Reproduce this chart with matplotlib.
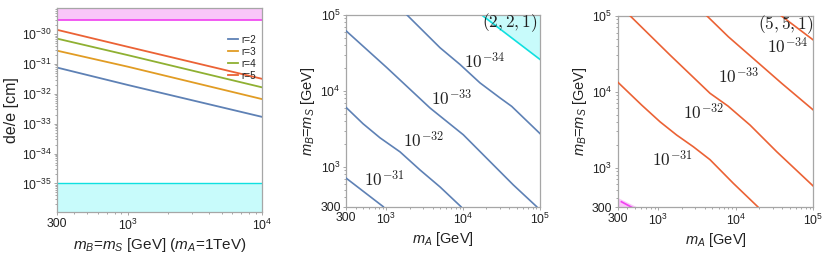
import numpy as np
import matplotlib
matplotlib.use("Agg")
import matplotlib.pyplot as plt
from matplotlib.ticker import FixedLocator, NullFormatter, LogLocator

plt.rcParams['font.family'] = ['Liberation Sans', 'DejaVu Sans']
plt.rcParams['mathtext.fontset'] = 'custom'
plt.rcParams['mathtext.rm'] = 'Liberation Sans'
plt.rcParams['mathtext.it'] = 'Liberation Sans:italic'
plt.rcParams['mathtext.sf'] = 'Liberation Sans'

# ---------------- data ----------------
# Panel 1: de/e vs mB=mS (mA = 1 TeV)
p1_mass = [300, 1000, 10000]
p1_r2 = [7.6e-32, 2.0e-32, 1.7e-33]
p1_r3 = [2.8e-31, 8.2e-32, 6.7e-33]
p1_r4 = [7.1e-31, 2.0e-31, 1.66e-32]
p1_r5 = [1.4e-30, 3.8e-31, 3.2e-32]
p1_labels = ['r=2', 'r=3', 'r=4', 'r=5']
p1_upper_bound = 3.0e-30
p1_lower_bound = 1.0e-35

# Panel 2: (2,2,1) contours, mA vs mB
p2_c31_mA = [300, 910]
p2_c31_mB = [710, 300]
p2_c32_mA = [300, 495, 824, 1503, 2735, 4990, 9350]
p2_c32_mB = [6040, 3710, 2420, 1580, 914, 546, 300]
p2_c33_mA = [300, 1007, 3690, 10020, 22340, 44870, 90600]
p2_c33_mB = [61500, 20370, 5980, 2655, 1178, 581, 300]
p2_c34_mA = [1854, 4990, 9080, 16520, 30130, 42760, 100000]
p2_c34_mB = [100000, 37070, 22340, 12790, 8110, 6280, 2750]
p2_region_mA = [17400, 100000]
p2_region_mB = [100000, 26000]
p2_label_text = [r'$10^{-31}$', r'$10^{-32}$', r'$10^{-33}$', r'$10^{-34}$']
p2_label_mA = [930, 3020, 7080, 19230]
p2_label_mB = [697, 2235, 7940, 24660]

# Panel 3: (5,5,1) contours
p3_c31_mA = [300, 612, 1054, 1730, 2838, 4656, 9310, 19540]
p3_c31_mB = [13370, 6650, 4010, 2680, 1880, 1270, 620, 300]
p3_c32_mA = [432, 1419, 4656, 7940, 15280, 33810, 100000]
p3_c32_mB = [100000, 30340, 9510, 6460, 3630, 1615, 570]
p3_c33_mA = [4220, 8020, 17740, 39170, 100000]
p3_c33_mB = [100000, 52840, 26060, 12850, 5730]
p3_c34_mA = [38370, 100000]
p3_c34_mB = [100000, 47860]
p3_region_mA = [300, 300, 535]
p3_region_mB = [300, 400, 300]
p3_edge_mA = [335, 455]
p3_edge_mB = [355, 300]
p3_label_mA = [1520, 3820, 10790, 46240]
p3_label_mB = [1280, 5270, 16070, 39810]

# ---------------- style ----------------
W, H = 831, 257
BLUE = '#5E81B5'
ORANGE = '#E19C24'
GREEN = '#8FB032'
RED = '#EB6235'
SPINE = '#A6A6A6'
TXT = '#222222'
PINK_FILL = '#F9C6F9'
PINK_LINE = '#F040F0'
CYAN_FILL = '#C8FBFB'
CYAN_LINE = '#10E0E0'
LABEL_FS = 12.5

fig = plt.figure(figsize=(W / 100, H / 100), dpi=100)


def px_axes(l, r, t, b):
    return fig.add_axes([l / W, (H - b) / H, (r - l) / W, (b - t) / H])


def style(ax):
    for s in ax.spines.values():
        s.set_color(SPINE)
        s.set_linewidth(0.9)
    ax.tick_params(which='both', direction='out', color=SPINE, labelcolor=TXT,
                   labelsize=8.8, width=0.7, pad=1.5)
    ax.tick_params(which='major', length=2.5)
    ax.tick_params(which='minor', length=1.5)


# ---------------- panel 1 ----------------
ax1 = px_axes(57.3, 262, 8.3, 212)
ax1.set_xscale('log')
ax1.set_yscale('log')
ax1.set_xlim(300, 1e4)
ax1.set_ylim(1.1e-36, 7.4e-30)
ax1.axhspan(p1_upper_bound, 1, color=PINK_FILL, lw=0)
ax1.axhline(p1_upper_bound, color=PINK_LINE, lw=1.2)
ax1.axhspan(1e-40, p1_lower_bound, color=CYAN_FILL, lw=0)
ax1.axhline(p1_lower_bound, color=CYAN_LINE, lw=1.0)
for ys, c, lab in zip([p1_r2, p1_r3, p1_r4, p1_r5], [BLUE, ORANGE, GREEN, RED], p1_labels):
    ax1.plot(p1_mass, ys, color=c, lw=1.3, label=lab)
leg = ax1.legend(loc='upper right', bbox_to_anchor=(1.0, 0.9), frameon=False,
                 fontsize=7.2, handlelength=1.0, handletextpad=0.3,
                 labelspacing=0.2, borderaxespad=0.2)
for t in leg.get_texts():
    t.set_color(TXT)
ax1.xaxis.set_major_locator(FixedLocator([300, 1000, 10000]))
ax1.set_xticklabels(['300', r'$10^{3}$', r'$10^{4}$'])
ax1.xaxis.set_minor_locator(LogLocator(base=10, subs=np.arange(2, 10)))
ax1.xaxis.set_minor_formatter(NullFormatter())
yt = [1e-35, 1e-34, 1e-33, 1e-32, 1e-31, 1e-30]
ax1.yaxis.set_major_locator(FixedLocator(yt))
ax1.set_yticklabels([r'$10^{-35}$', r'$10^{-34}$', r'$10^{-33}$', r'$10^{-32}$',
                     r'$10^{-31}$', r'$10^{-30}$'])
ax1.yaxis.set_minor_locator(LogLocator(base=10, subs=np.arange(2, 10)))
ax1.yaxis.set_minor_formatter(NullFormatter())
style(ax1)
ax1.set_xlabel(r'$m_B$=$m_S$ [GeV] ($m_A$=1TeV)', fontsize=11, color=TXT, labelpad=2)
ax1.set_ylabel('de/e [cm]', fontsize=11.5, color=TXT, labelpad=2)


def mass_axes(ax):
    ax.set_xscale('log')
    ax.set_yscale('log')
    ax.set_xlim(300, 1e5)
    ax.set_ylim(300, 1e5)
    ticks = [300, 1000, 10000, 100000]
    ax.xaxis.set_major_locator(FixedLocator(ticks))
    ax.yaxis.set_major_locator(FixedLocator(ticks))
    labs = ['300', r'$10^{3}$', r'$10^{4}$', r'$10^{5}$']
    ax.set_xticklabels(labs)
    ax.set_yticklabels(labs)
    for a in (ax.xaxis, ax.yaxis):
        a.set_minor_locator(LogLocator(base=10, subs=np.arange(2, 10)))
        a.set_minor_formatter(NullFormatter())
    style(ax)
    ax.set_xlabel(r'$m_A$ [GeV]', fontsize=10.5, color=TXT, labelpad=2)
    ax.set_ylabel(r'$m_B$=$m_S$ [GeV]', fontsize=10.5, color=TXT, labelpad=2)


# ---------------- panel 2 ----------------
ax2 = px_axes(346.3, 540, 15, 206.7)
mass_axes(ax2)
ax2.fill([p2_region_mA[0], p2_region_mA[1], p2_region_mA[1]],
         [p2_region_mB[0], p2_region_mB[1], p2_region_mB[0]],
         color=CYAN_FILL, lw=0, zorder=1)
ax2.plot(p2_region_mA, p2_region_mB, color=CYAN_LINE, lw=1.2, zorder=2)
for xs, ys in [(p2_c31_mA, p2_c31_mB), (p2_c32_mA, p2_c32_mB),
               (p2_c33_mA, p2_c33_mB), (p2_c34_mA, p2_c34_mB)]:
    ax2.plot(xs, ys, color=BLUE, lw=1.2, zorder=3)
for t, x, y in zip(p2_label_text, p2_label_mA, p2_label_mB):
    ax2.text(x, y, t, fontsize=LABEL_FS, math_fontfamily='cm', color=TXT,
             ha='center', va='center', zorder=4)
ax2.text(40600, 79400, '$(2,2,1)$', fontsize=LABEL_FS, math_fontfamily='cm',
         color=TXT, ha='center', va='center', zorder=4)

# ---------------- panel 3 ----------------
ax3 = px_axes(617.7, 813.3, 15.7, 207.3)
mass_axes(ax3)
ax3.fill(p3_region_mA, p3_region_mB, color=PINK_FILL, lw=0, zorder=1, clip_on=True)
ax3.plot(p3_edge_mA, p3_edge_mB, color=PINK_LINE, lw=1.2, zorder=2)
for xs, ys in [(p3_c31_mA, p3_c31_mB), (p3_c32_mA, p3_c32_mB),
               (p3_c33_mA, p3_c33_mB), (p3_c34_mA, p3_c34_mB)]:
    ax3.plot(xs, ys, color=RED, lw=1.2, zorder=3)
for t, x, y in zip(p2_label_text, p3_label_mA, p3_label_mB):
    ax3.text(x, y, t, fontsize=LABEL_FS, math_fontfamily='cm', color=TXT,
             ha='center', va='center', zorder=4)
ax3.text(44150, 75300, '$(5,5,1)$', fontsize=LABEL_FS, math_fontfamily='cm',
         color=TXT, ha='center', va='center', zorder=4)

fig.savefig('out.png', dpi=100)
